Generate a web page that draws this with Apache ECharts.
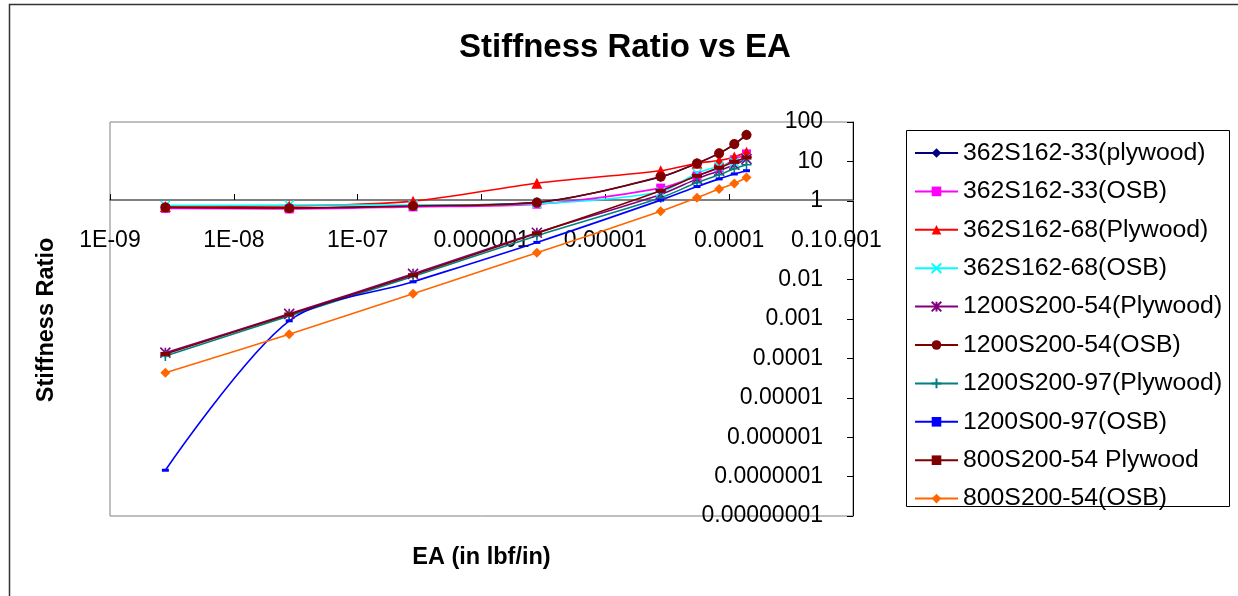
<!DOCTYPE html>
<html>
<head>
<meta charset="utf-8">
<script src="https://cdn.jsdelivr.net/npm/echarts@6/dist/echarts.min.js"></script>
<style>
  html, body { margin: 0; padding: 0; background: #fff; }
  #chart { width: 1238px; height: 596px; }
</style>
</head>
<body>
<div id="chart"></div>
<script>
// EA values (lbf/in) shared by every series
const eaValues = [2.8e-9, 2.8e-8, 2.8e-7, 2.8e-6, 2.8e-5, 5.5e-5, 8.3e-5, 1.1e-4, 1.38e-4];

// Stiffness ratio per section / sheathing
const s362_33_plywood = [0.70, 0.66, 0.76, 0.92, 4.0, 9.0, 16.0, 27.0, 48.0];
const s362_33_osb     = [0.64, 0.62, 0.70, 0.82, 2.1, 4.3, 7.0, 11.0, 15.5];
const s362_68_plywood = [0.72, 0.74, 0.98, 2.8, 5.8, 9.0, 10.5, 13.0, 17.0];
const s362_68_osb     = [0.76, 0.78, 0.78, 0.85, 1.7, 5.0, 7.5, 9.5, 12.0];
const s1200_54_plywood = [1.4e-4, 1.35e-3, 0.014, 0.155, 1.45, 3.6, 5.8, 8.2, 11.5];
const s1200_54_osb     = [0.68, 0.65, 0.74, 0.90, 4.1, 8.9, 16.0, 27.5, 47.0];
const s1200_97_plywood = [1.15e-4, 1.2e-3, 0.012, 0.13, 1.2, 2.9, 4.6, 6.5, 8.2];
const s1200_97_osb     = [1.45e-7, 9.0e-4, 8.8e-3, 0.088, 1.04, 2.3, 3.6, 4.8, 5.8];
const s800_54_plywood  = [1.3e-4, 1.3e-3, 0.013, 0.15, 1.8, 4.3, 6.9, 9.8, 12.5];
const s800_54_osb      = [4.3e-5, 4.1e-4, 4.4e-3, 0.048, 0.54, 1.2, 2.0, 2.75, 3.9];

// Tick labels, indexed by decade exponent
const xTickLabels = { '-9': '1E-09', '-8': '1E-08', '-7': '1E-07', '-6': '0.000001', '-5': '0.00001', '-4': '0.0001', '-3': '0.001' };
const yTickLabels = { '2': '100', '1': '10', '0': '1', '-1': '0.1', '-2': '0.01', '-3': '0.001', '-4': '0.0001',
  '-5': '0.00001', '-6': '0.000001', '-7': '0.0000001', '-8': '0.00000001' };

const FONT = 'Liberation Sans, Arial, sans-serif';

const seriesDefs = [
  { name: '362S162-33(plywood)', data: s362_33_plywood, color: '#000080', symbol: 'diamond', size: 10 },
  { name: '362S162-33(OSB)', data: s362_33_osb, color: '#FF00FF', symbol: 'rect', size: 9 },
  { name: '362S162-68(Plywood)', data: s362_68_plywood, color: '#FF0000', symbol: 'triangle', size: 11 },
  { name: '362S162-68(OSB)', data: s362_68_osb, color: '#00FFFF', symbol: 'path://M0,0L10,10M10,0L0,10', size: 9, stroke: true },
  { name: '1200S200-54(Plywood)', data: s1200_54_plywood, color: '#800080', symbol: 'path://M0,0L10,10M10,0L0,10M5,0L5,10', size: 10, stroke: true },
  { name: '1200S200-54(OSB)', data: s1200_54_osb, color: '#800000', symbol: 'circle', size: 10 },
  { name: '1200S200-97(Plywood)', data: s1200_97_plywood, color: '#008080', symbol: 'path://M5,0L5,10M0,5L10,5', size: 10, stroke: true },
  { name: '1200S00-97(OSB)', data: s1200_97_osb, color: '#0000FF', symbol: 'rect', size: [7, 3] },
  { name: '800S200-54 Plywood', data: s800_54_plywood, color: '#800000', symbol: 'rect', size: [10, 4] },
  { name: '800S200-54(OSB)', data: s800_54_osb, color: '#FF6600', symbol: 'diamond', size: 10 }
];

const series = seriesDefs.map(d => ({
  name: d.name,
  type: 'line',
  xAxisIndex: 0,
  yAxisIndex: 0,
  data: eaValues.map((x, i) => [x, d.data[i]]),
  smooth: 0.3,
  symbol: d.symbol,
  symbolSize: d.size,
  showSymbol: true,
  lineStyle: { color: d.color, width: 1.6 },
  itemStyle: d.stroke
    ? { color: d.color, borderColor: d.color, borderWidth: 1.6 }
    : { color: d.color, borderWidth: 0 },
  emphasis: { disabled: true }
}));

const chart = echarts.init(document.getElementById('chart'), null, { renderer: 'canvas' });

chart.setOption({
  animation: false,
  backgroundColor: '#fff',
  title: {
    text: 'Stiffness Ratio vs EA',
    left: 454,
    top: 26,
    textStyle: { fontFamily: FONT, fontSize: 33, fontWeight: 'bold', color: '#000' }
  },
  legend: {
    orient: 'vertical',
    left: 914,
    top: 140.5,
    itemWidth: 43,
    itemHeight: 12,
    itemGap: 13.4,
    padding: 0,
    textStyle: { fontFamily: FONT, fontSize: 24.8, color: '#000', lineHeight: 25 },
    data: seriesDefs.map(d => d.name),
    selectedMode: false
  },
  grid: [
    { left: 110, top: 122, width: 743, height: 394, show: true, borderColor: '#808080', borderWidth: 1, backgroundColor: 'transparent' },
    { left: 110, top: 122, width: 743, height: 78, show: false }
  ],
  xAxis: [
    {
      type: 'log', gridIndex: 0, logBase: 10, min: 1e-9, max: 1e-3,
      axisLine: { show: false }, axisTick: { show: false }, axisLabel: { show: false },
      splitLine: { show: false },
      name: 'EA (in lbf/in)', nameLocation: 'middle', nameGap: 30,
      nameTextStyle: { fontFamily: FONT, fontSize: 23.5, fontWeight: 'bold', color: '#000' }
    },
    {
      type: 'log', gridIndex: 1, logBase: 10, min: 1e-9, max: 1e-3, interval: 1, position: 'bottom',
      axisLine: { show: true, lineStyle: { color: '#808080', width: 2 } },
      axisTick: { show: true, inside: true, length: 6, lineStyle: { color: '#000', width: 1 } },
      axisLabel: {
        show: true, interval: 0, margin: 29, color: '#000', fontFamily: FONT, fontSize: 23,
        formatter: v => xTickLabels[String(Math.round(Math.log10(v)))] || ''
      },
      splitLine: { show: false }, minorTick: { show: false }
    }
  ],
  yAxis: [
    {
      type: 'log', gridIndex: 0, logBase: 10, min: 1e-8, max: 100, interval: 1, position: 'right',
      axisLine: { show: true, lineStyle: { color: '#000', width: 1 } },
      axisTick: { show: true, inside: true, length: 6, lineStyle: { color: '#000', width: 1 } },
      axisLabel: {
        show: true, inside: true, interval: 0, margin: 30, color: '#000', fontFamily: FONT, fontSize: 23,
        formatter: v => yTickLabels[String(Math.round(Math.log10(v)))] || ''
      },
      splitLine: { show: false }, minorTick: { show: false }
    },
    { type: 'value', gridIndex: 1, show: false }
  ],
  graphic: [
    {
      type: 'rect', silent: true, z: -10,
      shape: { x: 9.5, y: 4.5, width: 1400, height: 800 },
      style: { fill: 'none', stroke: '#333', lineWidth: 1.5 }
    },
    {
      type: 'rect', silent: true,
      shape: { x: 906.5, y: 130.5, width: 323, height: 376 },
      style: { fill: 'none', stroke: '#000', lineWidth: 1 }
    },
    {
      type: 'text', silent: true,
      x: 47, y: 320, rotation: Math.PI / 2,
      style: { text: 'Stiffness Ratio', fontFamily: FONT, fontSize: 23.5, fontWeight: 'bold', fill: '#000', align: 'center', verticalAlign: 'middle' }
    }
  ],
  series: series
});
</script>
</body>
</html>
